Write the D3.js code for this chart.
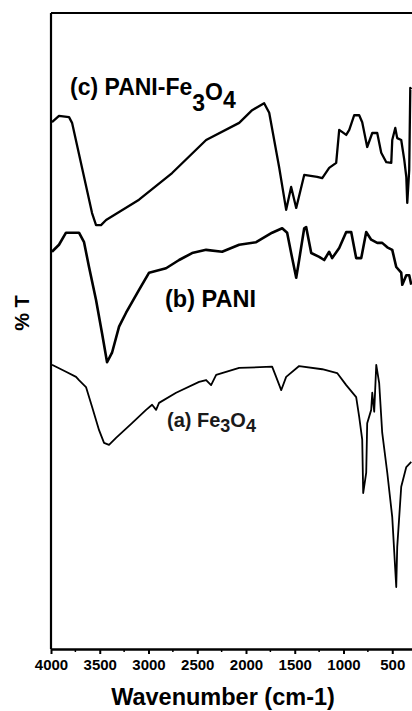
<!DOCTYPE html>
<html>
<head>
<meta charset="utf-8">
<script src="https://cdn.jsdelivr.net/npm/d3@7"></script>
<style>
  body { margin: 0; background: #fff; }
  svg { display: block; font-family: "Liberation Sans", Arial, sans-serif; }
</style>
</head>
<body>
<svg id="chart" width="412" height="711"></svg>
<script>
// (c) PANI-Fe3O4, wavenumber (cm-1) and %T
var pfWave = [3990,3918,3815,3784,3579,3538,3487,3435,3097,2758,2409,2070,1937,1814,1762,1660,1588,1537,1485,1403,1270,1218,1147,1075,1044,972,941,890,839,808,757,705,654,613,561,510,500,469,449,408,377,356,346,326,315,305];
var pfT = [82.8,83.8,83.6,82.7,68.5,66.6,66.6,67.4,70.6,74.8,80.0,82.7,84.7,85.8,84.3,75.7,69.0,72.6,69.3,74.5,74.2,74.0,75.6,76.4,81.6,80.8,81.6,83.9,83.9,82.8,78.9,81.1,81.1,78.0,76.5,76.4,80.0,81.9,80.3,80.0,76.9,74.2,70.1,75.3,88.2,88.0];

// (b) PANI
var paniWave = [3990,3918,3846,3713,3661,3610,3538,3477,3425,3374,3302,3230,3097,2994,2820,2686,2553,2409,2245,2070,1896,1732,1629,1578,1537,1485,1455,1403,1383,1331,1249,1198,1147,1116,1044,972,921,870,818,767,716,654,603,551,500,459,408,397,356,326,305];
var paniT = [62.4,63.5,65.4,65.4,63.9,60.0,54.8,49.6,45.0,46.5,50.6,52.8,56.4,59.1,59.8,61.1,62.2,62.7,62.4,63.5,63.9,65.4,66.1,65.4,62.2,58.3,61.1,66.1,66.3,62.2,61.6,61.1,62.4,61.4,63.0,65.5,65.5,61.4,61.4,65.5,64.3,63.8,63.8,63.1,62.7,60.0,59.1,57.2,58.7,58.7,57.2];

// (a) Fe3O4
var feWave = [3990,3846,3743,3713,3641,3579,3507,3456,3405,3333,3169,3025,2963,2922,2892,2717,2481,2409,2358,2306,2070,1732,1691,1639,1588,1455,1218,1065,972,870,839,808,798,767,757,716,705,685,664,634,603,551,500,459,449,408,356,305];
var feT = [44.6,43.5,42.7,42.2,41.1,38.0,34.3,32.3,32.0,33.1,35.4,37.5,38.3,37.5,38.6,40.2,41.9,42.2,41.4,43.0,44.1,44.3,42.7,40.6,42.7,44.4,43.9,43.3,41.4,39.5,36.4,32.8,24.4,27.6,35.4,37.5,40.2,37.2,44.6,41.7,33.9,27.6,20.6,9.6,15.9,25.4,28.5,29.3];

var xTicks = [4000,3500,3000,2500,2000,1500,1000,500];
var xMinorTicks = [3750,3250,2750,2250,1750,1250,750,250];

var svg = d3.select("#chart");

// plot box; the right edge of the original figure is cut off
var margin = {left: 51, top: 13, bottom: 649};

var x = d3.scaleLinear()
  .domain([4000, 0])
  .range([margin.left, margin.left + 4000 * 0.0975]);

var y = d3.scaleLinear()
  .domain([0, 100])
  .range([margin.bottom - 1, margin.top]);

var line = d3.line()
  .x(function(d) { return x(d[0]); })
  .y(function(d) { return y(d[1]); });

function pairs(w, t) {
  return w.map(function(d, i) { return [d, t[i]]; });
}

var series = [
  {pts: pairs(feWave, feT), width: 1.8},
  {pts: pairs(paniWave, paniT), width: 2.6},
  {pts: pairs(pfWave, pfT), width: 2.3}
];

svg.append("line")
  .attr("x1", margin.left).attr("x2", 412)
  .attr("y1", margin.top).attr("y2", margin.top)
  .attr("stroke", "#000").attr("stroke-width", 2.2);

svg.append("line")
  .attr("x1", margin.left).attr("x2", margin.left)
  .attr("y1", margin.top).attr("y2", margin.bottom)
  .attr("stroke", "#000").attr("stroke-width", 2.2);

svg.selectAll("path.spec")
  .data(series)
  .enter().append("path")
  .attr("class", "spec")
  .attr("d", function(d) { return line(d.pts); })
  .attr("fill", "none")
  .attr("stroke", "#000")
  .attr("stroke-linejoin", "round")
  .attr("stroke-width", function(d) { return d.width; });

// bottom axis
var xAxis = d3.axisBottom(x)
  .tickValues(xTicks)
  .tickSizeInner(5)
  .tickSizeOuter(0)
  .tickPadding(5)
  .tickFormat(d3.format("d"));

var gx = svg.append("g")
  .attr("transform", "translate(0," + margin.bottom + ")")
  .call(xAxis);

gx.select(".domain").attr("stroke-width", 2.6);
gx.selectAll(".tick line").attr("stroke-width", 2);
gx.selectAll(".tick text")
  .attr("font-size", 15)
  .attr("font-weight", "bold")
  .attr("font-family", "'Liberation Sans', Arial, sans-serif")
  .attr("fill", "#000");

svg.append("g")
  .attr("transform", "translate(0," + margin.bottom + ")")
  .selectAll("line")
  .data(xMinorTicks)
  .enter().append("line")
  .attr("x1", function(d) { return x(d); })
  .attr("x2", function(d) { return x(d); })
  .attr("y1", 0).attr("y2", 3)
  .attr("stroke", "#000").attr("stroke-width", 1.5);

// axis titles
svg.append("text")
  .attr("x", 223).attr("y", 705)
  .attr("text-anchor", "middle")
  .attr("font-size", 23.5)
  .attr("font-weight", "bold")
  .text("Wavenumber (cm-1)");

svg.append("text")
  .attr("transform", "translate(29,313) rotate(-90)")
  .attr("text-anchor", "middle")
  .attr("font-size", 20)
  .attr("font-weight", "bold")
  .text("% T");

// curve labels
var lc = svg.append("text")
  .attr("x", 70).attr("y", 95)
  .attr("font-size", 23)
  .attr("font-weight", "bold");
lc.append("tspan").text("(c) PANI-Fe");
lc.append("tspan").attr("dy", 16).text("3");
lc.append("tspan").attr("dy", -11).text("O");
lc.append("tspan").attr("dy", 8).text("4");

svg.append("text")
  .attr("x", 165).attr("y", 307)
  .attr("font-size", 23.5)
  .attr("font-weight", "bold")
  .text("(b) PANI");

var la = svg.append("text")
  .attr("x", 167).attr("y", 427)
  .attr("font-size", 20)
  .attr("font-weight", "bold")
  .attr("fill", "#1a1a1a");
la.append("tspan").text("(a) Fe");
la.append("tspan").attr("dy", 5).attr("font-size", 18).text("3");
la.append("tspan").attr("dy", -5).text("O");
la.append("tspan").attr("dy", 5).attr("font-size", 18).text("4");
</script>
</body>
</html>
